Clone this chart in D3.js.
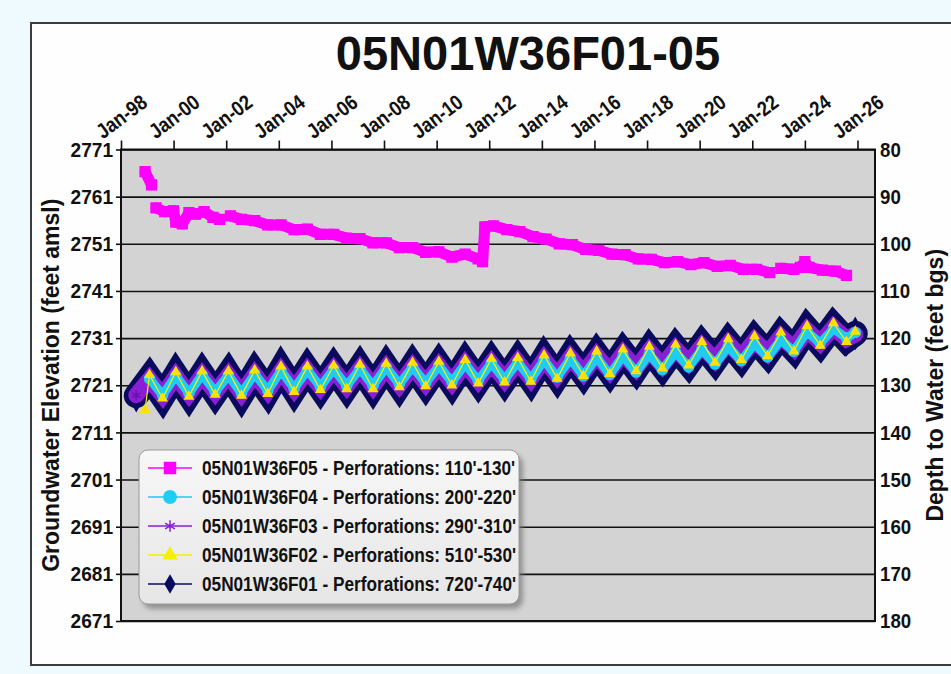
<!DOCTYPE html>
<html>
<head>
<meta charset="utf-8">
<script src="https://cdn.jsdelivr.net/npm/d3@7"></script>
<style>
	body { margin: 0; background: #eefafd; }
	svg { display: block; }
</style>
</head>
<body>
<div id="chart"></div>
<script>

var xTickLabels = ["Jan-98","Jan-00","Jan-02","Jan-04","Jan-06","Jan-08","Jan-10","Jan-12",
	"Jan-14","Jan-16","Jan-18","Jan-20","Jan-22","Jan-24","Jan-26"];
var xTickDates = ["1998-01","2000-01","2002-01","2004-01","2006-01","2008-01","2010-01","2012-01",
	"2014-01","2016-01","2018-01","2020-01","2022-01","2024-01","2026-01"];
var elevTicks = [2671, 2681, 2691, 2701, 2711, 2721, 2731, 2741, 2751, 2761, 2771];
var depthTicks = [80, 90, 100, 110, 120, 130, 140, 150, 160, 170, 180];

var seriesNames = ["05N01W36F05 - Perforations: 110'-130'",
	"05N01W36F04 - Perforations: 200'-220'",
	"05N01W36F03 - Perforations: 290'-310'",
	"05N01W36F02 - Perforations: 510'-530'",
	"05N01W36F01 - Perforations: 720'-740'"];

// shallow well (null = gap in record)
var f05Dates = ["1998-12","1999-03","1999-04","1999-05","1999-09","2000-01","2000-02","2000-05","2000-08",
	"2000-11","2001-03","2001-07","2001-10","2001-12","2002-03","2002-08","2003-02","2003-08","2004-02",
	"2004-08","2005-02","2005-08","2006-02","2006-08","2007-02","2007-08","2008-02","2008-08","2009-02",
	"2009-08","2010-02","2010-08","2011-02","2011-08","2011-10","2011-11","2012-03","2012-09","2013-03",
	"2013-09","2014-03","2014-09","2015-03","2015-09","2016-03","2016-09","2017-03","2017-09","2018-03",
	"2018-09","2019-03","2019-09","2020-03","2020-09","2021-03","2021-09","2022-03","2022-09","2022-11",
	"2023-02","2023-08","2023-11","2024-01","2024-03","2024-09","2025-03","2025-08"];
var f05Values = [2766.3, 2763.5, null, 2758.6, 2757.8, 2758.0, 2755.6, 2755.2, 2757.6,
	2757.3, 2757.8, 2756.6, 2756.2, null, 2756.9, 2756.2, 2755.9, 2755.0, 2755.0,
	2754.0, 2754.1, 2753.0, 2753.0, 2752.2, 2752.1, 2751.2, 2751.2, 2750.2, 2750.2,
	2749.2, 2749.3, 2748.2, 2748.8, 2747.8, 2747.2, 2754.6, 2754.8, 2754.0, 2753.6,
	2752.5, 2752.0, 2751.0, 2750.8, 2749.8, 2749.6, 2748.8, 2748.7, 2747.8, 2747.7,
	2747.0, 2747.2, 2746.6, 2747.0, 2746.2, 2746.4, 2745.6, 2745.6, 2744.9, null,
	2745.8, 2745.6, 2746.0, 2747.2, 2746.0, 2745.4, 2745.2, 2744.3];

// deeper wells: seasonal highs (Feb) and lows (Aug)
var seasonDates = ["1998-08","1999-02","1999-08","2000-02","2000-08","2001-02","2001-08","2002-02","2002-08",
	"2003-02","2003-08","2004-02","2004-08","2005-02","2005-08","2006-02","2006-08","2007-02","2007-08",
	"2008-02","2008-08","2009-02","2009-08","2010-02","2010-08","2011-02","2011-08","2012-02","2012-08",
	"2013-02","2013-08","2014-02","2014-08","2015-02","2015-08","2016-02","2016-08","2017-02","2017-08",
	"2018-02","2018-08","2019-02","2019-08","2020-02","2020-08","2021-02","2021-08","2022-02","2022-08",
	"2023-02","2023-08","2024-02","2024-08","2025-02","2025-08","2025-12"];
var f01Values = [2718.8, 2722.6, 2718.6, 2723.2, 2719.0, 2723.4, 2719.3, 2723.4, 2719.0,
	2723.6, 2719.6, 2724.4, 2720.0, 2724.4, 2720.4, 2724.6, 2720.6, 2724.8, 2720.6,
	2725.0, 2720.9, 2725.2, 2721.2, 2725.4, 2721.4, 2725.8, 2721.8, 2726.0, 2722.0,
	2726.2, 2722.2, 2726.8, 2722.8, 2727.2, 2723.4, 2727.6, 2723.8, 2728.0, 2724.4,
	2728.6, 2725.0, 2729.0, 2725.6, 2729.6, 2726.2, 2730.2, 2726.8, 2730.8, 2727.6,
	2731.6, 2728.6, 2733.0, 2729.8, 2733.6, 2730.6, 2732.0];
var f02Dates = ["1998-12"].concat(seasonDates.slice(1));
var f02Values = [2715.8, 2723.2, 2718.2, 2723.8, 2718.6, 2724.0, 2719.0, 2724.0, 2718.8,
	2724.2, 2719.2, 2725.0, 2719.6, 2725.0, 2720.0, 2725.2, 2720.2, 2725.4, 2720.2,
	2725.6, 2720.6, 2725.8, 2720.8, 2726.0, 2721.0, 2726.4, 2721.4, 2726.6, 2721.6,
	2726.8, 2721.8, 2727.4, 2722.4, 2727.8, 2723.0, 2728.2, 2723.4, 2728.6, 2724.0,
	2729.2, 2724.6, 2729.6, 2725.2, 2730.2, 2725.8, 2730.8, 2726.4, 2731.4, 2727.2,
	2732.2, 2728.2, 2733.6, 2729.4, 2734.2, 2730.2, 2732.4];
var f03Values = [2718.9, 2722.3, 2718.8, 2722.9, 2719.2, 2723.1, 2719.5, 2723.1, 2719.3,
	2723.3, 2719.8, 2724.0, 2720.2, 2724.1, 2720.6, 2724.3, 2720.8, 2724.5, 2720.8,
	2724.7, 2721.1, 2724.9, 2721.4, 2725.1, 2721.6, 2725.5, 2722.0, 2725.7, 2722.2,
	2725.9, 2722.4, 2726.5, 2723.0, 2726.9, 2723.6, 2727.3, 2724.0, 2727.7, 2724.6,
	2728.3, 2725.2, 2728.7, 2725.8, 2729.3, 2726.4, 2729.9, 2727.0, 2730.5, 2727.8,
	2731.3, 2728.8, 2732.7, 2730.0, 2733.3, 2730.8, 2731.8];
var f04Values = [null, 2722.4, 2718.9, 2723.0, 2719.3, 2723.2, 2719.6, 2723.1, 2719.3,
	2723.4, 2719.9, 2724.1, 2720.3, 2724.2, 2720.7, 2724.4, 2720.9, 2724.5, 2720.9,
	2724.8, 2721.2, 2724.9, 2721.5, 2725.1, 2721.7, 2725.5, 2722.0, 2725.7, 2722.2,
	2725.9, 2722.3, 2726.3, 2722.7, 2726.6, 2723.0, 2726.9, 2723.3, 2727.2, 2723.8,
	2727.6, 2724.3, 2728.0, 2724.9, 2728.6, 2725.5, 2729.2, 2726.2, 2729.8, 2727.0,
	2730.6, 2728.2, 2732.4, 2729.9, 2733.0, 2731.0, 2732.2];

// ---- chart ----
var width = 951;
var height = 674;
var plotLeft = 121;
var plotRight = 875;
var plotTop = 149.5;
var plotBottom = 621;

var font = "'Liberation Sans',Arial,sans-serif";

var parse = d3.timeParse("%Y-%m");

function pairs(dates, values) {
	return dates.map(function(d, i) { return { date: parse(d), value: values[i] }; });
}

// no narrow face installed: squeeze the glyphs instead
function squeeze(sel, k) {
	sel.each(function() {
		var w = this.getComputedTextLength();
		d3.select(this).attr("textLength", w * k).attr("lengthAdjust", "spacingAndGlyphs");
	});
}

var svg = d3.select("#chart")
	.append("svg")
	.attr("width", width)
	.attr("height", height);

var defs = svg.append("defs");
var lg = defs.append("linearGradient").attr("id", "legendFill").attr("x1", 0).attr("y1", 0).attr("x2", 0).attr("y2", 1);
lg.append("stop").attr("offset", "0%").attr("stop-color", "#f7f7f7");
lg.append("stop").attr("offset", "100%").attr("stop-color", "#e6e6e6");
defs.append("filter").attr("id", "shadow").attr("x", "-10%").attr("y", "-10%").attr("width", "130%").attr("height", "140%")
	.append("feGaussianBlur").attr("stdDeviation", 2.5);

// white panel with dark frame
svg.append("rect")
	.attr("x", 31).attr("y", 23)
	.attr("width", 960).attr("height", 642)
	.attr("fill", "#fefefe")
	.attr("stroke", "#3c3c3c")
	.attr("stroke-width", 2);

// scales
var xScale = d3.scaleTime()
	.domain([parse("1998-01"), parse("2026-09")])
	.range([plotLeft, plotRight]);

var yScale = d3.scaleLinear()
	.domain([2671, 2771])
	.range([plotBottom, plotTop]);

var depthScale = d3.scaleLinear()
	.domain([180, 80])
	.range([plotBottom, plotTop]);

// plot background
svg.append("rect")
	.attr("x", plotLeft).attr("y", plotTop)
	.attr("width", plotRight - plotLeft).attr("height", plotBottom - plotTop)
	.attr("fill", "#d3d3d3");

// gridlines
svg.append("g")
	.attr("transform", "translate(" + plotLeft + ",0)")
	.call(d3.axisLeft(yScale).tickValues(elevTicks).tickSize(-(plotRight - plotLeft)).tickFormat(""))
	.call(function(g) {
		g.select(".domain").remove();
		g.selectAll("line").attr("stroke", "#111").attr("stroke-width", 1.6);
	});

// left axis
svg.append("g")
	.attr("transform", "translate(" + plotLeft + ",0)")
	.call(d3.axisLeft(yScale).tickValues(elevTicks).tickSize(5).tickPadding(3).tickFormat(d3.format("d")))
	.call(function(g) {
		g.select(".domain").remove();
		g.selectAll("line").attr("stroke", "#111").attr("stroke-width", 1.6);
		g.selectAll("text").attr("font-family", font).attr("font-weight", "bold")
			.attr("font-size", 21).attr("fill", "#111")
			.call(squeeze, 0.91);
	});

// right axis
svg.append("g")
	.attr("transform", "translate(" + plotRight + ",0)")
	.call(d3.axisRight(depthScale).tickValues(depthTicks).tickSize(0).tickPadding(5))
	.call(function(g) {
		g.select(".domain").remove();
		g.selectAll("text").attr("font-family", font).attr("font-weight", "bold")
			.attr("font-size", 21).attr("fill", "#111")
			.call(squeeze, 0.89);
	});

// top date axis with slanted labels
svg.append("g")
	.attr("transform", "translate(0," + plotTop + ")")
	.call(d3.axisTop(xScale).tickValues(xTickDates.map(parse)).tickSize(9)
		.tickFormat(function(d, i) { return xTickLabels[i]; }))
	.call(function(g) {
		g.select(".domain").remove();
		g.selectAll("line").attr("stroke", "#111").attr("stroke-width", 1.6);
		g.selectAll("text")
			.attr("y", null).attr("dy", "0.35em")
			.attr("transform", "translate(0,-33) rotate(-37)")
			.attr("text-anchor", "middle")
			.attr("font-family", font).attr("font-weight", "bold")
			.attr("font-size", 21).attr("fill", "#111")
			.call(squeeze, 0.86);
	});

// series
var line = d3.line()
	.defined(function(d) { return d.value != null; })
	.x(function(d) { return xScale(d.date); })
	.y(function(d) { return yScale(d.value); });

var plot = svg.append("g");

function drawSeries(data, color, bandWidth, join, symbol, size, markColor) {
	plot.append("path")
		.datum(data)
		.attr("d", line)
		.attr("fill", "none")
		.attr("stroke", color)
		.attr("stroke-width", bandWidth)
		.attr("stroke-linejoin", join)
		.attr("stroke-linecap", "round");
	plot.selectAll(null)
		.data(data.filter(function(d) { return d.value != null; }))
		.enter()
		.append("path")
		.attr("transform", function(d) { return "translate(" + xScale(d.date) + "," + yScale(d.value) + ")"; })
		.attr("d", d3.symbol().type(symbol).size(size))
		.attr("fill", markColor)
		.attr("stroke", markColor)
		.attr("stroke-width", 1.5);
}

drawSeries(pairs(seasonDates, f01Values), "#0b0b5e", 25, "miter", d3.symbolDiamond, 270, "#0b0b5e");
drawSeries(pairs(seasonDates, f03Values), "#8a1ed2", 16, "miter", d3.symbolAsterisk, 60, "#6a10b0");
drawSeries(pairs(seasonDates, f04Values), "#1fcdf3", 9, "round", d3.symbolCircle, 80, "#1fcdf3");
drawSeries(pairs(f02Dates, f02Values), "#fff000", 1.2, "round", d3.symbolTriangle, 30, "#ffe000");
drawSeries(pairs(f05Dates, f05Values), "#ff00ff", 11, "round", d3.symbolSquare, 95, "#ff00ff");

// plot frame
svg.append("rect")
	.attr("x", plotLeft).attr("y", plotTop)
	.attr("width", plotRight - plotLeft).attr("height", plotBottom - plotTop)
	.attr("fill", "none")
	.attr("stroke", "#111")
	.attr("stroke-width", 2);

// titles
svg.append("text")
	.attr("x", 528).attr("y", 70)
	.attr("text-anchor", "middle")
	.attr("font-family", font).attr("font-weight", "bold").attr("font-size", 48)
	.attr("fill", "#111")
	.text("05N01W36F01-05")
	.call(squeeze, 0.98);

svg.append("text")
	.attr("transform", "translate(59," + ((plotTop + plotBottom) / 2) + ") rotate(-90)")
	.attr("text-anchor", "middle")
	.attr("font-family", font).attr("font-weight", "bold").attr("font-size", 23)
	.attr("fill", "#111")
	.text("Groundwater Elevation (feet amsl)");

svg.append("text")
	.attr("transform", "translate(943," + ((plotTop + plotBottom) / 2) + ") rotate(-90)")
	.attr("text-anchor", "middle")
	.attr("font-family", font).attr("font-weight", "bold").attr("font-size", 23)
	.attr("fill", "#111")
	.text("Depth to Water (feet bgs)");

// legend
var legend = svg.append("g").attr("transform", "translate(139,450)");
legend.append("rect")
	.attr("x", 4).attr("y", 5).attr("width", 380).attr("height", 154).attr("rx", 9)
	.attr("fill", "#777").attr("opacity", 0.7).attr("filter", "url(#shadow)");
legend.append("rect")
	.attr("width", 380).attr("height", 154).attr("rx", 9)
	.attr("fill", "url(#legendFill)")
	.attr("stroke", "#9a9a9a");

var legendStyles = [
	{ color: "#ff00ff", symbol: d3.symbolSquare, size: 120 },
	{ color: "#1fcdf3", symbol: d3.symbolCircle, size: 120 },
	{ color: "#8a1ed2", symbol: d3.symbolAsterisk, size: 90 },
	{ color: "#f4f000", symbol: d3.symbolTriangle, size: 70 },
	{ color: "#0b0b5e", symbol: d3.symbolDiamond, size: 80 }
];

var rows = legend.selectAll(".row")
	.data(seriesNames)
	.enter()
	.append("g")
	.attr("transform", function(d, i) { return "translate(0," + (18 + i * 29) + ")"; });

rows.append("line")
	.attr("x1", 9).attr("x2", 53)
	.attr("stroke", function(d, i) { return legendStyles[i].color; })
	.attr("stroke-width", 1.5);

rows.append("path")
	.attr("transform", "translate(31,0)")
	.attr("d", function(d, i) { return d3.symbol().type(legendStyles[i].symbol).size(legendStyles[i].size)(); })
	.attr("fill", function(d, i) { return legendStyles[i].color; })
	.attr("stroke", function(d, i) { return legendStyles[i].color; })
	.attr("stroke-width", 1.5);

rows.append("text")
	.attr("x", 63).attr("dy", "0.35em")
	.attr("font-family", font).attr("font-weight", "bold").attr("font-size", 20)
	.attr("fill", "#111")
	.text(function(d) { return d; })
	.call(squeeze, 0.86);

</script>
</body>
</html>
